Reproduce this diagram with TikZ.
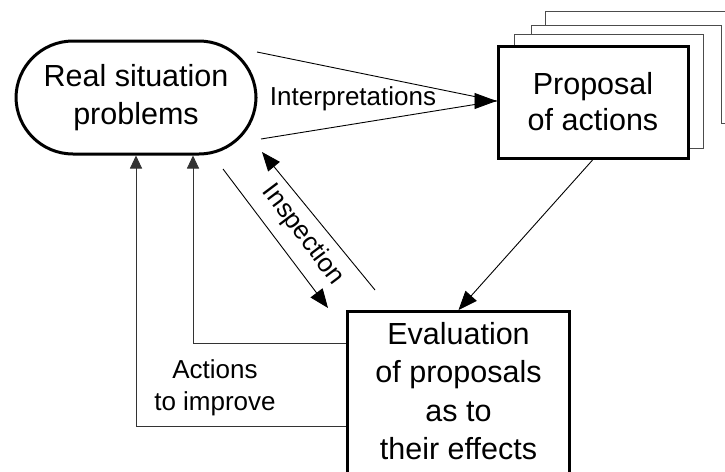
\documentclass[tikz,border=0pt]{standalone}
\usepackage{fontspec}
\setmainfont{Liberation Sans}
\usetikzlibrary{arrows.meta,calc}
\begin{document}
\begin{tikzpicture}[x=1pt,y=-1pt,
  conn/.style={line width=0.9pt, draw=black},
  act/.style={line width=0.9pt, draw=black!80},
  bigbox/.style={draw, line width=3pt, fill=white, align=center, inner sep=0pt},
  mainfont/.style={font=\fontsize{30.5}{38.5}\selectfont},
  propfont/.style={font=\fontsize{30.5}{36}\selectfont},
  lbl/.style={font=\fontsize{26}{32}\selectfont, align=center, inner sep=0pt},
  stackrect/.style={draw=black!70, fill=white, line width=1pt},
  tipL/.style={-{Triangle[length=22pt,width=16pt]}},
  tipM/.style={-{Triangle[length=19pt,width=15pt]}},
  tipS/.style={-{Triangle[length=13pt,width=12pt]}},
]
\clip (0,0) rectangle (725,471);
\fill[white] (0,0) rectangle (725,471);

% stacked sheets behind the proposal box
\filldraw[stackrect] (545,11) rectangle (770,123);
\fill[white] (531,25) rectangle (721,140);
\draw[stackrect] (531,140) |- (721,25) -- (721,123);
\filldraw[stackrect] (514,34) rectangle (703,148);

% main nodes
\node[bigbox, propfont, minimum width=190, minimum height=112] (prop) at (593,102) {Proposal\\of actions};
\node[draw, line width=3pt, rounded corners=57pt, minimum width=240, minimum height=113,
      align=center, inner sep=0pt, mainfont] (real) at (136,97.5) {Real situation\\problems};
\node[bigbox, mainfont, anchor=north west, minimum width=222, minimum height=170] (eval) at (346,310)
  {Evaluation\\of proposals\\as to\\their effects\rule[-11pt]{0pt}{0pt}};

% Interpretations
\coordinate (i1) at (257,52);
\coordinate (i2) at (261,139);
\coordinate (itip) at ($(prop.west)+(0,-1)$);
\draw[conn] (i1) -- (itip);
\draw[conn] (i2) -- (itip);
\draw[conn, tipL] ($(itip)+(-22,0)$) -- (itip);
\node[lbl] (interp) at (353,99) {Interpretations};

% Proposal -> Evaluation
\draw[conn, tipM] (prop.south) -- (eval.north);

% Inspection
\coordinate (s1) at (375,290);
\coordinate (s1tip) at (262,152);
\coordinate (s2) at (223,169);
\coordinate (s2tip) at (328,308);
\draw[conn, tipM] (s1) -- (s1tip);
\draw[conn, tipM] (s2) -- (s2tip);
\node[lbl, rotate=-53] (insp) at (303,235) {Inspection};

% Actions to improve
\coordinate (a1) at (eval.west |- 0,343);
\coordinate (a2) at (eval.west |- 0,426);
\draw[act, tipS] (a1) -| ($(real.south)+(57,0)$);
\draw[act, tipS] (a2) -| (real.south);
\node[lbl] (actlbl) at (215,387.5) {Actions\\to improve};
\end{tikzpicture}
\end{document}
